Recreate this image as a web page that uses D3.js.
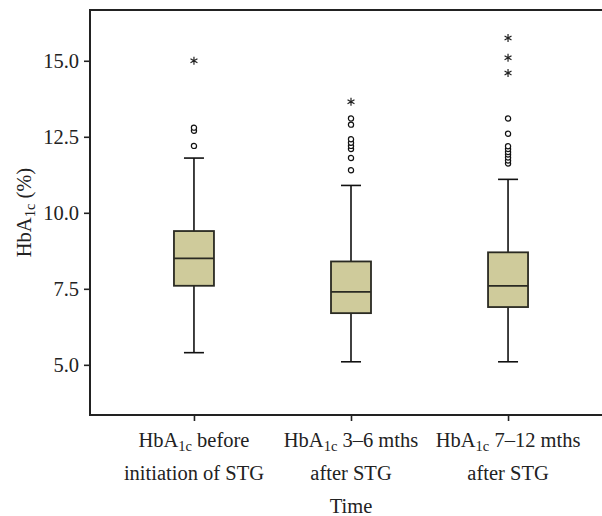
<!DOCTYPE html>
<html>
<head>
<meta charset="utf-8">
<script src="https://cdn.jsdelivr.net/npm/d3@7"></script>
<style>
  body { margin: 0; background: #fff; }
  text { font-family: "Liberation Serif", "Times New Roman", serif; fill: #222; }
</style>
</head>
<body>
<svg id="chart"></svg>
<script>
// Box plot data
const groups = ['before', 'm3to6', 'm7to12'];
const labelLine1 = [' before', ' 3\u20136 mths', ' 7\u201312 mths'];
const labelLine2 = ['initiation of STG', 'after STG', 'after STG'];
const whiskerLow = [5.4, 5.1, 5.1];
const q1 = [7.6, 6.7, 6.9];
const median = [8.5, 7.4, 7.6];
const q3 = [9.4, 8.4, 8.7];
const whiskerHigh = [11.8, 10.9, 11.1];
const outliers = [
  [12.2, 12.7, 12.8],
  [11.4, 11.8, 12.1, 12.2, 12.3, 12.42, 12.9, 13.1],
  [11.62, 11.72, 11.82, 11.92, 12.0, 12.1, 12.19, 12.6, 13.1]
];
const extremes = [
  [15.0],
  [13.65],
  [14.6, 15.1, 15.75]
];
const yTicks = [5.0, 7.5, 10.0, 12.5, 15.0];

const FONT = 20.5;
const SUB = 14.5;

class Boxplot {

  constructor(_config) {
    this.config = {
      parentElement: _config.parentElement,
      containerWidth: _config.containerWidth || 602,
      containerHeight: _config.containerHeight || 516,
      margin: _config.margin || {top: 10, right: -10, bottom: 101, left: 90}
    }
    this.initVis();
  }

  initVis() {
    let vis = this;

    vis.width = vis.config.containerWidth - vis.config.margin.left - vis.config.margin.right;
    vis.height = vis.config.containerHeight - vis.config.margin.top - vis.config.margin.bottom;

    vis.xScale = d3.scalePoint()
        .domain(groups)
        .range([0, vis.width])
        .padding(0.662);

    vis.yScale = d3.scaleLinear()
        .domain([3.35, 16.67])
        .range([vis.height, 0]);

    vis.xAxis = d3.axisBottom(vis.xScale)
        .tickSizeInner(6)
        .tickSizeOuter(0)
        .tickFormat('');

    vis.yAxis = d3.axisLeft(vis.yScale)
        .tickValues(yTicks)
        .tickSizeInner(6)
        .tickSizeOuter(0)
        .tickPadding(5)
        .tickFormat(d3.format('.1f'));

    vis.svg = d3.select(vis.config.parentElement)
        .attr('width', vis.config.containerWidth)
        .attr('height', vis.config.containerHeight);

    vis.chart = vis.svg.append('g')
        .attr('transform', `translate(${vis.config.margin.left},${vis.config.margin.top})`);

    vis.xAxisG = vis.chart.append('g')
        .attr('class', 'axis x-axis')
        .attr('transform', `translate(0,${vis.height})`);

    vis.yAxisG = vis.chart.append('g')
        .attr('class', 'axis y-axis');

    // frame: left, top and bottom (right side runs off the picture)
    vis.chart.append('path')
        .attr('d', `M${vis.width},0H0V${vis.height}H${vis.width}`)
        .attr('fill', 'none')
        .attr('stroke', '#222')
        .attr('stroke-width', 2);

    // x labels, two lines each with subscript
    const xl = vis.chart.append('g')
        .attr('class', 'xlabels')
        .selectAll('text')
        .data(groups)
        .join('text')
        .attr('text-anchor', 'middle')
        .attr('font-size', FONT)
        .attr('x', d => vis.xScale(d))
        .attr('y', vis.height + 32);
    xl.append('tspan').text('HbA');
    xl.append('tspan').attr('font-size', SUB).attr('dy', 4).text('1c');
    xl.append('tspan').attr('dy', -4).text((d, i) => labelLine1[i]);

    vis.chart.append('g')
        .selectAll('text')
        .data(groups)
        .join('text')
        .attr('text-anchor', 'middle')
        .attr('font-size', FONT)
        .attr('x', d => vis.xScale(d))
        .attr('y', vis.height + 65)
        .text((d, i) => labelLine2[i]);

    vis.chart.append('text')
        .attr('class', 'xlabel')
        .attr('text-anchor', 'middle')
        .attr('font-size', FONT)
        .attr('x', vis.xScale(groups[1]))
        .attr('y', vis.height + 98)
        .text('Time');

    const yl = vis.chart.append('text')
        .attr('class', 'ylabel')
        .attr('text-anchor', 'middle')
        .attr('font-size', FONT)
        .attr('transform', `translate(${-59},${vis.height / 2}) rotate(-90)`);
    yl.append('tspan').text('HbA');
    yl.append('tspan').attr('font-size', SUB).attr('dy', 4).text('1c');
    yl.append('tspan').attr('dy', -4).text(' (%)');

    vis.updateVis();
  }

  updateVis() {
    let vis = this;
    vis.boxes = groups.map((g, i) => ({
      key: g,
      lo: whiskerLow[i], q1: q1[i], med: median[i], q3: q3[i], hi: whiskerHigh[i],
      out: outliers[i], ext: extremes[i]
    }));
    vis.renderVis();
  }

  renderVis() {
    let vis = this;
    const boxW = 40, capW = 20;

    const g = vis.chart.selectAll('.box')
        .data(vis.boxes)
        .join('g')
        .attr('class', 'box')
        .attr('transform', d => `translate(${vis.xScale(d.key)},0)`);

    // whisker
    g.append('line')
        .attr('y1', d => vis.yScale(d.lo))
        .attr('y2', d => vis.yScale(d.hi))
        .attr('stroke', '#111')
        .attr('stroke-width', 1.6);

    g.append('line')
        .attr('x1', -capW / 2).attr('x2', capW / 2)
        .attr('y1', d => vis.yScale(d.lo)).attr('y2', d => vis.yScale(d.lo))
        .attr('stroke', '#111').attr('stroke-width', 1.6);

    g.append('line')
        .attr('x1', -capW / 2).attr('x2', capW / 2)
        .attr('y1', d => vis.yScale(d.hi)).attr('y2', d => vis.yScale(d.hi))
        .attr('stroke', '#111').attr('stroke-width', 1.6);

    // box
    g.append('rect')
        .attr('x', -boxW / 2)
        .attr('width', boxW)
        .attr('y', d => vis.yScale(d.q3))
        .attr('height', d => vis.yScale(d.q1) - vis.yScale(d.q3))
        .attr('fill', '#cfcb9b')
        .attr('stroke', '#2a2a22')
        .attr('stroke-width', 1.8);

    g.append('line')
        .attr('x1', -boxW / 2).attr('x2', boxW / 2)
        .attr('y1', d => vis.yScale(d.med)).attr('y2', d => vis.yScale(d.med))
        .attr('stroke', '#2a2a22').attr('stroke-width', 1.8);

    // outliers
    g.selectAll('.outlier')
        .data(d => d.out)
        .join('circle')
        .attr('class', 'outlier')
        .attr('cy', d => vis.yScale(d))
        .attr('r', 2.6)
        .attr('fill', '#fff')
        .attr('stroke', '#111')
        .attr('stroke-width', 1.2);

    // extremes drawn as six-armed asterisks
    const star = {
      draw(context, size) {
        const r = Math.sqrt(size) / 2;
        for (let k = 0; k < 3; k++) {
          const a = Math.PI / 2 + k * Math.PI / 3;
          context.moveTo(Math.cos(a) * r, Math.sin(a) * r);
          context.lineTo(-Math.cos(a) * r, -Math.sin(a) * r);
        }
      }
    };
    g.selectAll('.extreme')
        .data(d => d.ext)
        .join('path')
        .attr('class', 'extreme')
        .attr('transform', d => `translate(0,${vis.yScale(d)})`)
        .attr('d', d3.symbol(star, 64))
        .attr('fill', 'none')
        .attr('stroke', '#222')
        .attr('stroke-width', 1.2);

    vis.xAxisG.call(vis.xAxis);
    vis.yAxisG.call(vis.yAxis);
    vis.chart.selectAll('.axis .domain').remove();
    vis.chart.selectAll('.axis .tick line').attr('stroke', '#222').attr('stroke-width', 1.6);
    vis.yAxisG.selectAll('.tick text')
        .attr('font-size', FONT)
        .attr('font-family', '"Liberation Serif", serif')
        .attr('fill', '#222');
  }
}

new Boxplot({ parentElement: '#chart' });
</script>
</body>
</html>
